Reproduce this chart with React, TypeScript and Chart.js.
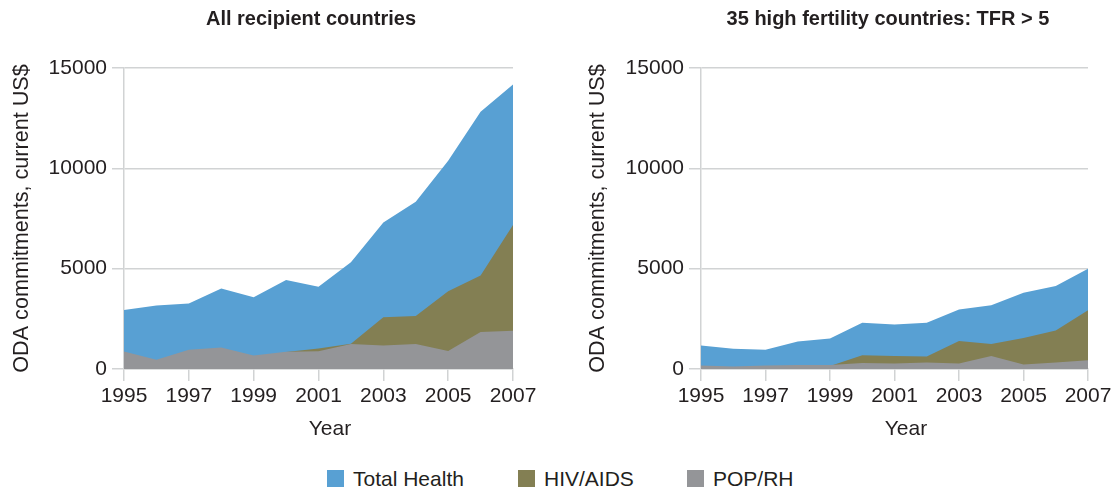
import React, { useEffect, useRef } from "react";
import { Chart, registerables } from "chart.js";

Chart.register(...registerables);

const years = [1995, 1996, 1997, 1998, 1999, 2000, 2001, 2002, 2003, 2004, 2005, 2006, 2007];

const allTotal = [2940, 3170, 3270, 4015, 3570, 4430, 4100, 5320, 7300, 8340, 10380, 12820, 14180];
const allHiv = [200, 150, 250, 350, 450, 850, 1020, 1260, 2580, 2640, 3870, 4660, 7170];
const allPop = [870, 460, 960, 1070, 675, 860, 890, 1250, 1170, 1240, 900, 1850, 1900];

const hiTotal = [1165, 1015, 965, 1365, 1515, 2300, 2215, 2300, 2965, 3180, 3800, 4130, 5000];
const hiHiv = [50, 40, 60, 80, 150, 685, 650, 620, 1400, 1250, 1550, 1920, 2930];
const hiPop = [180, 130, 180, 200, 200, 300, 270, 330, 270, 650, 230, 330, 430];

const seriesNames = ["Total Health", "HIV/AIDS", "POP/RH"];
const seriesColors = ["#58a0d3", "#837f53", "#949598"];
const chartTitles = ["All recipient countries", "35 high fertility countries: TFR > 5"];
const yTitle = "ODA commitments, current US$";
const xTitle = "Year";

const FONT = "'Liberation Sans', Arial, Helvetica, sans-serif";
const TEXT = "#231f20";
const GRID = "#d1d3d4";

function makeConfig(series: number[][], yWidth: number, padRight: number): any {
  return {
    type: "line",
    data: {
      datasets: series.map((vals, i) => ({
        label: seriesNames[i],
        data: years.map((y, j) => ({ x: y, y: vals[j] })),
        backgroundColor: seriesColors[i],
        borderColor: seriesColors[i],
        borderWidth: 0,
        pointRadius: 0,
        tension: 0,
        fill: "origin",
        order: 3 - i,
      })),
    },
    options: {
      animation: false,
      responsive: false,
      maintainAspectRatio: false,
      layout: { padding: { left: 0, right: padRight, top: 68, bottom: 0 } },
      plugins: { legend: { display: false }, tooltip: { enabled: false }, title: { display: false } },
      scales: {
        x: {
          type: "linear",
          min: 1995,
          max: 2007,
          afterFit: (s: any) => {
            s.height = 81;
          },
          ticks: {
            stepSize: 2,
            color: TEXT,
            font: { family: FONT, size: 21 },
            padding: 3,
            maxRotation: 0,
            callback: (v: any) => String(v),
          },
          grid: { drawOnChartArea: false, drawTicks: true, tickLength: 12, color: GRID, lineWidth: 1.5 },
          border: { display: true, color: GRID, width: 1.5 },
          title: { display: false },
        },
        y: {
          min: 0,
          max: 15000,
          afterFit: (s: any) => {
            s.width = yWidth;
          },
          ticks: {
            stepSize: 5000,
            color: TEXT,
            font: { family: FONT, size: 21 },
            padding: 5,
            callback: (v: any) => String(v),
          },
          grid: { drawTicks: true, tickLength: 12, color: GRID, lineWidth: 1.5 },
          border: { display: true, color: GRID, width: 1.5 },
          title: {
            display: true,
            text: yTitle,
            color: TEXT,
            font: { family: FONT, size: 21.6 },
            padding: { top: 9, bottom: 0 },
          },
        },
      },
    },
  };
}

function AreaChart(props: { series: number[][]; left: number; width: number; yWidth: number; padRight: number }) {
  const ref = useRef<HTMLCanvasElement | null>(null);
  useEffect(() => {
    if (!ref.current) return;
    const chart = new Chart(ref.current, makeConfig(props.series, props.yWidth, props.padRight));
    return () => chart.destroy();
  }, []);
  return (
    <canvas
      ref={ref}
      width={props.width}
      height={450}
      style={{ position: "absolute", left: props.left, top: 0, width: props.width, height: 450 }}
    />
  );
}

export default function App() {
  const titleStyle: React.CSSProperties = {
    position: "absolute",
    top: 6,
    height: 24,
    lineHeight: "24px",
    fontFamily: FONT,
    fontWeight: "bold",
    fontSize: 20,
    color: TEXT,
    textAlign: "center",
    whiteSpace: "nowrap",
  };
  const xTitleStyle: React.CSSProperties = {
    position: "absolute",
    top: 415,
    height: 26,
    lineHeight: "26px",
    width: 200,
    fontFamily: FONT,
    fontSize: 21,
    color: TEXT,
    textAlign: "center",
  };
  const legendLefts = [327, 518, 687];
  return (
    <div style={{ position: "absolute", left: 0, top: 0, width: 1120, height: 494, background: "#fff", overflow: "hidden" }}>
      <AreaChart series={[allTotal, allHiv, allPop]} left={0} width={560} yWidth={124} padRight={47} />
      <AreaChart series={[hiTotal, hiHiv, hiPop]} left={576} width={544} yWidth={125} padRight={32} />
      <div style={{ ...titleStyle, left: 111, width: 400 }}>{chartTitles[0]}</div>
      <div style={{ ...titleStyle, left: 688, width: 400 }}>{chartTitles[1]}</div>
      <div style={{ ...xTitleStyle, left: 230 }}>{xTitle}</div>
      <div style={{ ...xTitleStyle, left: 806 }}>{xTitle}</div>
      {seriesNames.map((name, i) => (
        <div key={name} style={{ position: "absolute", left: legendLefts[i], top: 466, height: 25, display: "flex", alignItems: "center" }}>
          <span style={{ display: "inline-block", width: 17, height: 17, background: seriesColors[i], marginRight: 9 }} />
          <span style={{ fontFamily: FONT, fontSize: 21, color: TEXT, lineHeight: "25px" }}>{name}</span>
        </div>
      ))}
    </div>
  );
}
